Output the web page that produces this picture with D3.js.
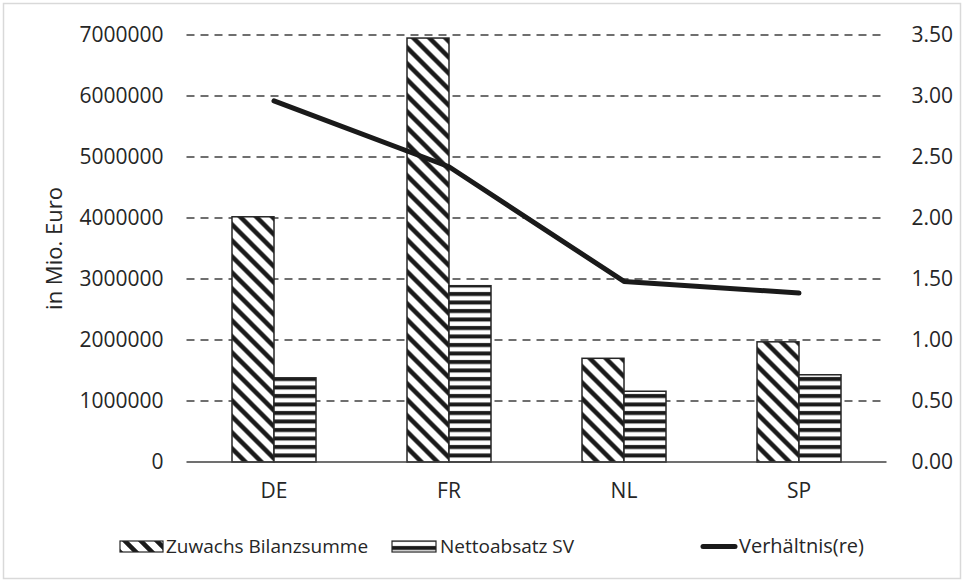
<!DOCTYPE html>
<html>
<head>
<meta charset="utf-8">
<script src="https://cdn.jsdelivr.net/npm/d3@7"></script>
<style>
  body { margin: 0; background: #fff; }
  text { font-family: "Open Sans", "Noto Sans", sans-serif; fill: #262626; }
</style>
</head>
<body>
<svg id="chart" width="964" height="582"></svg>
<script>

// data
var categories = ["DE", "FR", "NL", "SP"];
var zuwachs = [4020000, 6950000, 1700000, 1970000];
var netto = [1380000, 2890000, 1160000, 1430000];
var verhaeltnis = [2.96, 2.42, 1.48, 1.385];

var leftTicks = [0, 1000000, 2000000, 3000000, 4000000, 5000000, 6000000, 7000000];
var rightTicks = [0, 0.5, 1, 1.5, 2, 2.5, 3, 3.5];

var legendNames = ["Zuwachs Bilanzsumme", "Nettoabsatz SV", "Verhältnis(re)"];

function drawChart(){

  var svg = d3.select("#chart");

  var margin = {top: 35, right: 77.5, bottom: 120, left: 186.5};
  var width = 964 - margin.left - margin.right,
      height = 582 - margin.top - margin.bottom;

  // outer frame
  svg.append("rect")
    .attr("x", 3.5).attr("y", 3.5)
    .attr("width", 957).attr("height", 575)
    .attr("fill", "none")
    .attr("stroke", "#d9d9d9")
    .attr("stroke-width", 1.5);

  var defs = svg.append("defs");

  var diag = defs.append("pattern")
    .attr("id", "diag")
    .attr("patternUnits", "userSpaceOnUse")
    .attr("width", 16).attr("height", 16);
  diag.append("rect").attr("width", 16).attr("height", 16).attr("fill", "#fff");
  diag.append("path")
    .attr("d", "M-4,-4L20,20M-4,12L4,20M12,-4L20,4")
    .attr("stroke", "#1a1a1a")
    .attr("stroke-width", 4.5);

  var horiz = defs.append("pattern")
    .attr("id", "horiz")
    .attr("patternUnits", "userSpaceOnUse")
    .attr("width", 10).attr("height", 8.5);
  horiz.append("rect").attr("width", 10).attr("height", 8.5).attr("fill", "#fff");
  horiz.append("rect").attr("y", 2).attr("width", 10).attr("height", 4).attr("fill", "#1a1a1a");

  var g = svg.append("g").attr("transform", "translate(" + margin.left + "," + margin.top + ")");

  var x = d3.scaleBand()
    .domain(categories)
    .range([0, width]);

  var y = d3.scaleLinear()
    .domain([0, 7000000])
    .range([height, 0]);

  var y2 = d3.scaleLinear()
    .domain([0, 3.5])
    .range([height, 0]);

  var barW = x.bandwidth() * 0.24;

  // dashed gridlines
  g.selectAll(".grid")
    .data(leftTicks.filter(function(d){ return d > 0; }))
    .enter()
    .append("line")
      .attr("x1", 0).attr("x2", width)
      .attr("y1", function(d){ return y(d); })
      .attr("y2", function(d){ return y(d); })
      .attr("stroke", "#404040")
      .attr("stroke-width", 1.5)
      .attr("stroke-dasharray", "8,6");

  // left axis labels
  var leftAxis = d3.axisLeft(y).tickValues(leftTicks).tickFormat(d3.format("d")).tickSize(0).tickPadding(23);
  g.append("g")
      .call(leftAxis)
      .call(function(a){ a.select(".domain").remove(); })
      .selectAll("text")
        .style("font-size", "21px")
        .attr("fill", "#262626");

  // right axis labels
  var rightAxis = d3.axisRight(y2).tickValues(rightTicks).tickFormat(d3.format(".2f")).tickSize(0).tickPadding(25);
  g.append("g")
      .attr("transform", "translate(" + width + ",0)")
      .call(rightAxis)
      .call(function(a){ a.select(".domain").remove(); })
      .selectAll("text")
        .style("font-size", "21px")
        .attr("fill", "#262626");

  // category labels
  g.append("g")
      .attr("transform", "translate(0," + height + ")")
      .call(d3.axisBottom(x).tickSize(0).tickPadding(21))
      .call(function(a){ a.select(".domain").remove(); })
      .selectAll("text")
        .style("font-size", "21px")
        .attr("fill", "#262626");

  // bars
  g.selectAll(".zuwachs")
    .data(zuwachs)
    .enter()
    .append("rect")
      .attr("x", function(d, i){ return x(categories[i]) + x.bandwidth() / 2 - barW; })
      .attr("y", function(d){ return y(d); })
      .attr("width", barW)
      .attr("height", function(d){ return height - y(d); })
      .attr("fill", "url(#diag)")
      .attr("stroke", "#262626")
      .attr("stroke-width", 1.5);

  g.selectAll(".netto")
    .data(netto)
    .enter()
    .append("rect")
      .attr("x", function(d, i){ return x(categories[i]) + x.bandwidth() / 2; })
      .attr("y", function(d){ return y(d); })
      .attr("width", barW)
      .attr("height", function(d){ return height - y(d); })
      .attr("fill", "url(#horiz)")
      .attr("stroke", "#262626")
      .attr("stroke-width", 1.5);

  // zero line
  g.append("line")
    .attr("x1", 0).attr("x2", width)
    .attr("y1", height).attr("y2", height)
    .attr("stroke", "#404040")
    .attr("stroke-width", 1.5);

  // ratio line
  var line = d3.line()
    .x(function(d, i){ return x(categories[i]) + x.bandwidth() / 2; })
    .y(function(d){ return y2(d); });

  g.append("path")
    .datum(verhaeltnis)
    .attr("fill", "none")
    .attr("stroke", "#1a1a1a")
    .attr("stroke-width", 5)
    .attr("stroke-linejoin", "round")
    .attr("stroke-linecap", "round")
    .attr("d", line);

  // y axis title
  svg.append("text")
    .attr("transform", "translate(62," + (margin.top + height / 2) + ") rotate(-90)")
    .attr("text-anchor", "middle")
    .style("font-size", "22px")
    .text("in Mio. Euro");

  // legend
  var leg = svg.append("g").attr("class", "legend");

  leg.append("rect")
    .attr("x", 120).attr("y", 541)
    .attr("width", 43).attr("height", 11)
    .attr("fill", "url(#diag)")
    .attr("stroke", "#262626")
    .attr("stroke-width", 1.2);
  leg.append("text")
    .attr("x", 166).attr("y", 553)
    .style("font-size", "19px")
    .text(legendNames[0]);

  leg.append("rect")
    .attr("x", 392).attr("y", 541)
    .attr("width", 44).attr("height", 11)
    .attr("fill", "url(#horiz)")
    .attr("stroke", "#262626")
    .attr("stroke-width", 1.2);
  leg.append("text")
    .attr("x", 440).attr("y", 553)
    .style("font-size", "19px")
    .text(legendNames[1]);

  leg.append("line")
    .attr("x1", 703).attr("x2", 735)
    .attr("y1", 546.5).attr("y2", 546.5)
    .attr("stroke", "#1a1a1a")
    .attr("stroke-width", 5)
    .attr("stroke-linecap", "round");
  leg.append("text")
    .attr("x", 739).attr("y", 553)
    .style("font-size", "20px")
    .text(legendNames[2]);
}

drawChart();
</script>
</body>
</html>
